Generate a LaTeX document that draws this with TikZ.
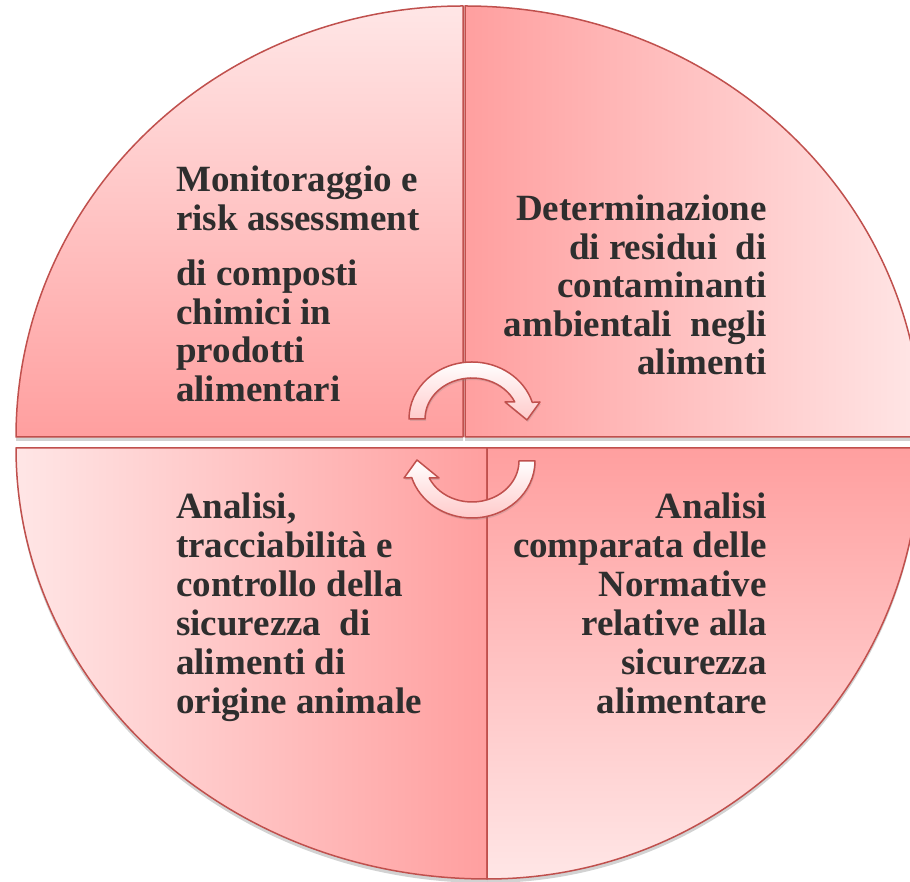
\documentclass[tikz,border=0pt]{standalone}
\usepackage{fontspec}
\setmainfont{Liberation Serif}
\usetikzlibrary{shadows}
\definecolor{pinkL}{HTML}{FFE6E6}
\definecolor{pinkD}{HTML}{FF9F9F}
\definecolor{rim}{HTML}{C0504D}
\definecolor{ink}{HTML}{2E2E2E}
\begin{document}
\begin{tikzpicture}[x=1pt, y=1pt,
    quarter/.style={draw=rim, line width=1.5pt, line join=round,
        drop shadow={shadow xshift=0pt, shadow yshift=-4pt, opacity=0.35}},
    label/.style={text=ink, font=\fontsize{37}{38.5}\selectfont\bfseries, inner sep=0pt},
    cycarrow/.style={draw=rim, line width=1.5pt, line join=round, top color=white, bottom color=pinkL!60!pinkD,
        drop shadow={shadow xshift=1pt, shadow yshift=-2pt, opacity=0.25}}]
\useasboundingbox (0,0) rectangle (910,882);
\fill[white] (0,0) rectangle (910,882);
\path[quarter, top color=pinkL, bottom color=pinkD] (463,445) -- (16,445) arc[start angle=180, end angle=90, x radius=447, y radius=431] -- cycle;
\path[quarter, left color=pinkD, right color=pinkL] (465,445) -- (465,876) arc[start angle=90, end angle=0, x radius=457, y radius=431] -- cycle;
\path[quarter, left color=pinkL, right color=pinkD] (487,434) -- (16,434) arc[start angle=180, end angle=270, x radius=471, y radius=431] -- cycle;
\path[quarter, top color=pinkD, bottom color=pinkL] (487,434) -- (920,434) arc[start angle=0, end angle=-90, x radius=433, y radius=431] -- cycle;
\node[label, align=left, anchor=north west] (monitor) at (176,716) {Monitoraggio e\\risk assessment\\[17pt]di composti\\chimici in\\prodotti\\alimentari};
\node[label, align=right, anchor=north east] (residui) at (767,687) {Determinazione\\di residui\ \ di\\contaminanti\\ambientali\ \ negli\\alimenti};
\node[label, align=left, anchor=north west, font=\fontsize{37}{39}\selectfont\bfseries] (tracce) at (176,389) {Analisi,\\tracciabilità e\\controllo della\\sicurezza\ \ di\\alimenti di\\origine animale};
\node[label, align=right, anchor=north east, font=\fontsize{37}{39}\selectfont\bfseries] (norme) at (767,389) {Analisi\\comparata delle\\Normative\\relative alla\\sicurezza\\alimentare};
\foreach \cy/\rot in {463/0, 421/180}
  \draw[cycarrow, shift={(472,\cy)}, rotate=\rot] (-63,0) arc[start angle=180, end angle=17, x radius=63, y radius=57] -- (68,17) -- (55,-1) -- (33,17) -- (42.8,17) arc[start angle=24.5, end angle=180, x radius=47, y radius=41] -- cycle;
\end{tikzpicture}
\end{document}
